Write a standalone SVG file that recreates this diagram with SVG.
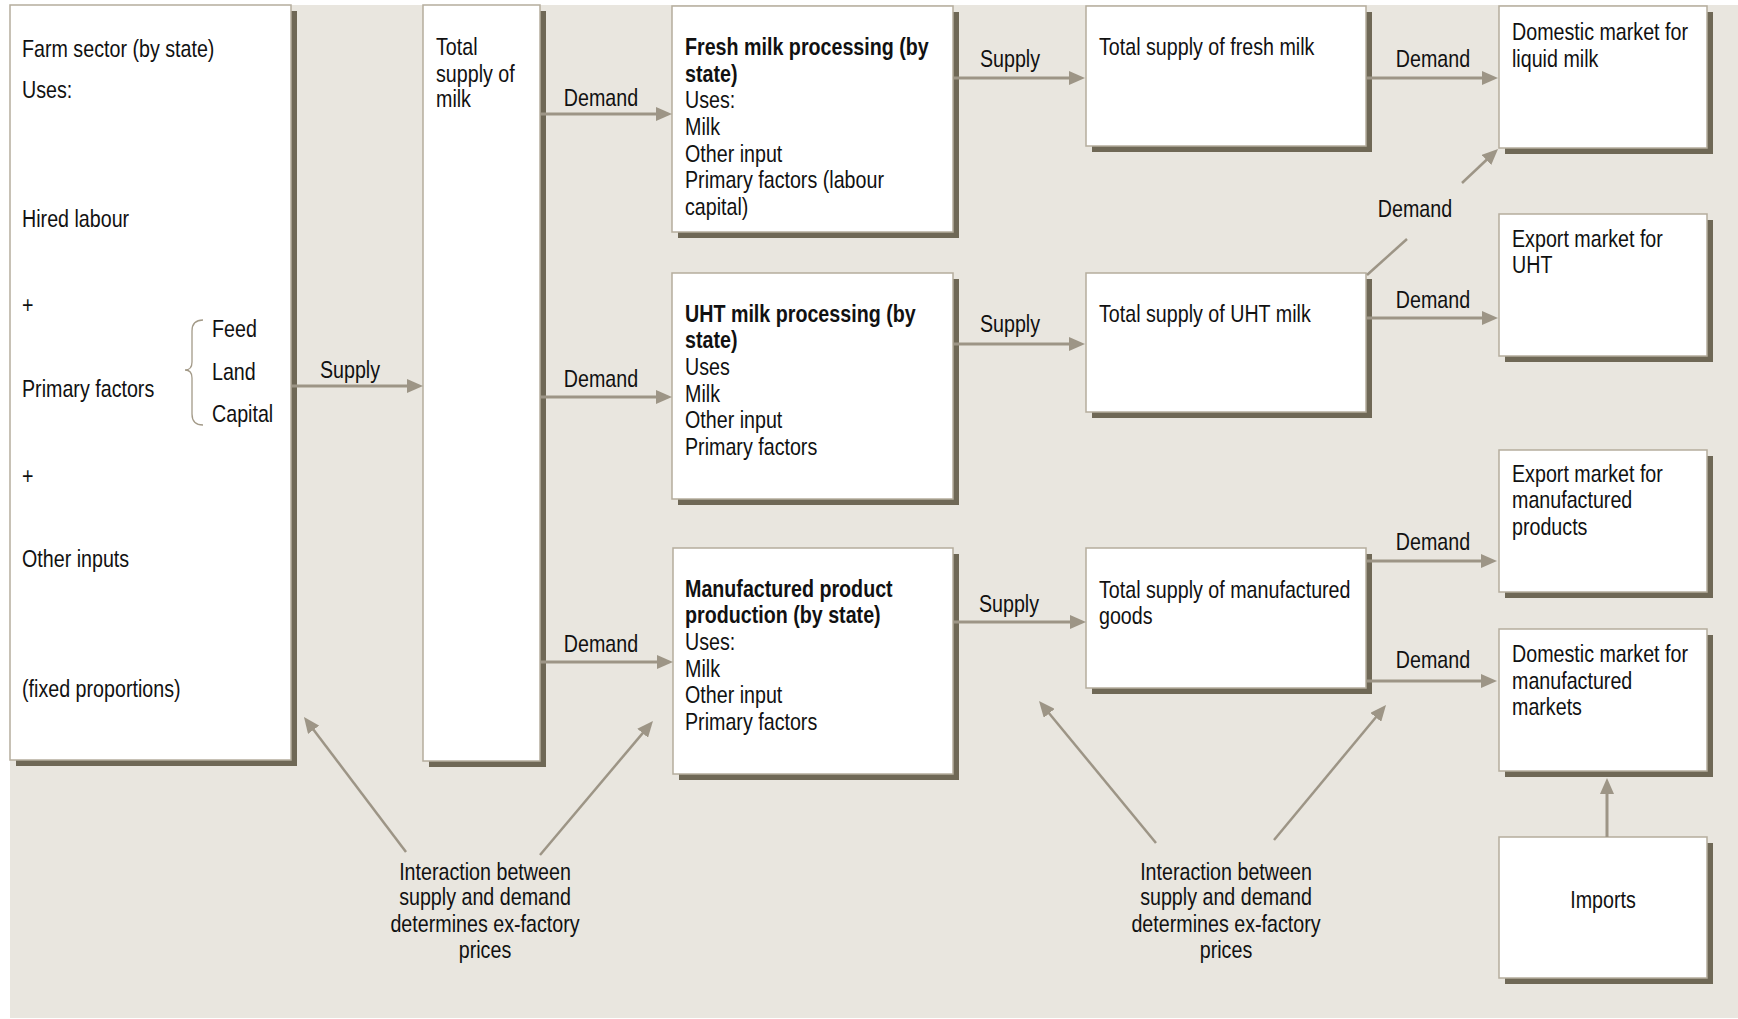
<svg xmlns="http://www.w3.org/2000/svg" width="1738" height="1019" viewBox="0 0 1738 1019">
<style>
.bg{fill:#E9E6DF}
.box{fill:#FFFFFF;stroke:#B5AD9D;stroke-width:1.5}
.sh{fill:#6F6856}
.t{font-family:'Liberation Sans',Arial,sans-serif;font-size:24px;fill:#111111}
.b{font-weight:bold}
.m{text-anchor:middle}
.c{stroke:#9D9586;stroke-width:3;fill:none}
.d{stroke:#9D9586;stroke-width:2.5;fill:none}
.br{stroke:#A39A88;stroke-width:1.3;fill:none}
</style>
<defs>
<marker id="ah" markerUnits="userSpaceOnUse" viewBox="0 0 16 14" markerWidth="16" markerHeight="14" refX="8" refY="7" orient="auto">
<path d="M0,0 L16,7 L0,14 z" fill="#9D9586"/>
</marker>
</defs>
<rect class="bg" x="10" y="5" width="1728" height="1013"/>

<g id="farm">
<rect class="sh" x="16" y="11" width="281" height="755"/>
<rect class="box" x="10" y="5" width="281" height="755"/>
<path class="br" d="M203,320 Q192,320 192,331 L192,362 Q192,370 185,370 Q192,370 192,378 L192,414 Q192,425 203,425"/>
<g transform="scale(0.82 1)">
<text class="t" x="26.83" y="57">Farm sector (by state)</text>
<text class="t" x="26.83" y="98">Uses:</text>
<text class="t" x="26.83" y="227">Hired labour</text>
<text class="t" x="26.83" y="313">+</text>
<text class="t" x="26.83" y="397">Primary factors</text>
<text class="t" x="258.54" y="337">Feed</text>
<text class="t" x="258.54" y="380">Land</text>
<text class="t" x="258.54" y="422">Capital</text>
<text class="t" x="26.83" y="484">+</text>
<text class="t" x="26.83" y="567">Other inputs</text>
<text class="t" x="26.83" y="697">(fixed proportions)</text>
</g>
</g>

<g id="total-milk">
<rect class="sh" x="429" y="11" width="117" height="756"/>
<rect class="box" x="423" y="5" width="117" height="756"/>
<g transform="scale(0.82 1)">
<text class="t" x="531.71" y="55">Total</text>
<text class="t" x="531.71" y="82">supply of</text>
<text class="t" x="531.71" y="107">milk</text>
</g>
</g>

<g id="fresh-processing">
<rect class="sh" x="678" y="12" width="281" height="226"/>
<rect class="box" x="672" y="6" width="281" height="226"/>
<g transform="scale(0.82 1)">
<text class="t b" x="835.37" y="55">Fresh milk processing (by</text>
<text class="t b" x="835.37" y="82">state)</text>
<text class="t" x="835.37" y="108">Uses:</text>
<text class="t" x="835.37" y="135">Milk</text>
<text class="t" x="835.37" y="162">Other input</text>
<text class="t" x="835.37" y="188">Primary factors (labour</text>
<text class="t" x="835.37" y="215">capital)</text>
</g>
</g>

<g id="uht-processing">
<rect class="sh" x="678" y="279" width="281" height="226"/>
<rect class="box" x="672" y="273" width="281" height="226"/>
<g transform="scale(0.82 1)">
<text class="t b" x="835.37" y="322">UHT milk processing (by</text>
<text class="t b" x="835.37" y="348">state)</text>
<text class="t" x="835.37" y="375">Uses</text>
<text class="t" x="835.37" y="402">Milk</text>
<text class="t" x="835.37" y="428">Other input</text>
<text class="t" x="835.37" y="455">Primary factors</text>
</g>
</g>

<g id="manufactured-production">
<rect class="sh" x="679" y="554" width="280" height="226"/>
<rect class="box" x="673" y="548" width="280" height="226"/>
<g transform="scale(0.82 1)">
<text class="t b" x="835.37" y="597">Manufactured product</text>
<text class="t b" x="835.37" y="623">production (by state)</text>
<text class="t" x="835.37" y="650">Uses:</text>
<text class="t" x="835.37" y="677">Milk</text>
<text class="t" x="835.37" y="703">Other input</text>
<text class="t" x="835.37" y="730">Primary factors</text>
</g>
</g>

<g id="total-fresh">
<rect class="sh" x="1092" y="12" width="280" height="140"/>
<rect class="box" x="1086" y="6" width="280" height="140"/>
<g transform="scale(0.82 1)">
<text class="t" x="1340.24" y="55">Total supply of fresh milk</text>
</g>
</g>

<g id="total-uht">
<rect class="sh" x="1092" y="279" width="280" height="139"/>
<rect class="box" x="1086" y="273" width="280" height="139"/>
<g transform="scale(0.82 1)">
<text class="t" x="1340.24" y="322">Total supply of UHT milk</text>
</g>
</g>

<g id="total-manufactured">
<rect class="sh" x="1092" y="554" width="280" height="140"/>
<rect class="box" x="1086" y="548" width="280" height="140"/>
<g transform="scale(0.82 1)">
<text class="t" x="1340.24" y="598">Total supply of manufactured</text>
<text class="t" x="1340.24" y="624">goods</text>
</g>
</g>

<g id="domestic-liquid">
<rect class="sh" x="1505" y="12" width="208" height="142"/>
<rect class="box" x="1499" y="6" width="208" height="142"/>
<g transform="scale(0.82 1)">
<text class="t" x="1843.9" y="40">Domestic market for</text>
<text class="t" x="1843.9" y="67">liquid milk</text>
</g>
</g>

<g id="export-uht">
<rect class="sh" x="1505" y="220" width="208" height="142"/>
<rect class="box" x="1499" y="214" width="208" height="142"/>
<g transform="scale(0.82 1)">
<text class="t" x="1843.9" y="247">Export market for</text>
<text class="t" x="1843.9" y="273">UHT</text>
</g>
</g>

<g id="export-manufactured">
<rect class="sh" x="1505" y="456" width="208" height="142"/>
<rect class="box" x="1499" y="450" width="208" height="142"/>
<g transform="scale(0.82 1)">
<text class="t" x="1843.9" y="482">Export market for</text>
<text class="t" x="1843.9" y="508">manufactured</text>
<text class="t" x="1843.9" y="535">products</text>
</g>
</g>

<g id="domestic-manufactured">
<rect class="sh" x="1505" y="635" width="208" height="142"/>
<rect class="box" x="1499" y="629" width="208" height="142"/>
<g transform="scale(0.82 1)">
<text class="t" x="1843.9" y="662">Domestic market for</text>
<text class="t" x="1843.9" y="689">manufactured</text>
<text class="t" x="1843.9" y="715">markets</text>
</g>
</g>

<g id="imports">
<rect class="sh" x="1505" y="843" width="208" height="141"/>
<rect class="box" x="1499" y="837" width="208" height="141"/>
<g transform="scale(0.82 1)">
<text class="t m" x="1954.88" y="908">Imports</text>
</g>
</g>

<g id="interaction-left">
<g transform="scale(0.82 1)">
<text class="t m" x="591.46" y="880">Interaction between</text>
<text class="t m" x="591.46" y="905">supply and demand</text>
<text class="t m" x="591.46" y="932">determines ex-factory</text>
<text class="t m" x="591.46" y="958">prices</text>
</g>
</g>

<g id="interaction-right">
<g transform="scale(0.82 1)">
<text class="t m" x="1495.12" y="880">Interaction between</text>
<text class="t m" x="1495.12" y="905">supply and demand</text>
<text class="t m" x="1495.12" y="932">determines ex-factory</text>
<text class="t m" x="1495.12" y="958">prices</text>
</g>
</g>

<g id="connectors">
<line class="c" x1="292" y1="386" x2="415" y2="386" marker-end="url(#ah)"/>
<line class="c" x1="541" y1="114" x2="664" y2="114" marker-end="url(#ah)"/>
<line class="c" x1="541" y1="397" x2="664" y2="397" marker-end="url(#ah)"/>
<line class="c" x1="541" y1="662" x2="665" y2="662" marker-end="url(#ah)"/>
<line class="c" x1="954" y1="78" x2="1077" y2="78" marker-end="url(#ah)"/>
<line class="c" x1="954" y1="344" x2="1077" y2="344" marker-end="url(#ah)"/>
<line class="c" x1="954" y1="622" x2="1078" y2="622" marker-end="url(#ah)"/>
<line class="c" x1="1367" y1="78" x2="1490" y2="78" marker-end="url(#ah)"/>
<line class="c" x1="1367" y1="318" x2="1490" y2="318" marker-end="url(#ah)"/>
<line class="c" x1="1367" y1="561" x2="1489" y2="561" marker-end="url(#ah)"/>
<line class="c" x1="1367" y1="681" x2="1489" y2="681" marker-end="url(#ah)"/>
<line class="d" x1="1367" y1="275" x2="1407" y2="239"/>
<line class="d" x1="1462" y1="183" x2="1492.2" y2="154.5" marker-end="url(#ah)"/>
<line class="c" x1="1607" y1="837" x2="1607" y2="786" marker-end="url(#ah)"/>
<line class="d" x1="406" y1="852" x2="308.8" y2="723.4" marker-end="url(#ah)"/>
<line class="d" x1="540" y1="855" x2="647.8" y2="727.1" marker-end="url(#ah)"/>
<line class="d" x1="1156" y1="843" x2="1044.1" y2="707.2" marker-end="url(#ah)"/>
<line class="d" x1="1274" y1="840" x2="1380.9" y2="711.2" marker-end="url(#ah)"/>
<g transform="scale(0.82 1)">
<text class="t m" x="426.83" y="378">Supply</text>
<text class="t m" x="732.93" y="106">Demand</text>
<text class="t m" x="732.93" y="387">Demand</text>
<text class="t m" x="732.93" y="652">Demand</text>
<text class="t m" x="1231.71" y="67">Supply</text>
<text class="t m" x="1231.71" y="332">Supply</text>
<text class="t m" x="1230.49" y="612">Supply</text>
<text class="t m" x="1747.56" y="67">Demand</text>
<text class="t m" x="1747.56" y="308">Demand</text>
<text class="t m" x="1747.56" y="550">Demand</text>
<text class="t m" x="1747.56" y="668">Demand</text>
<text class="t m" x="1725.61" y="217">Demand</text>
</g>
</g>
</svg>
